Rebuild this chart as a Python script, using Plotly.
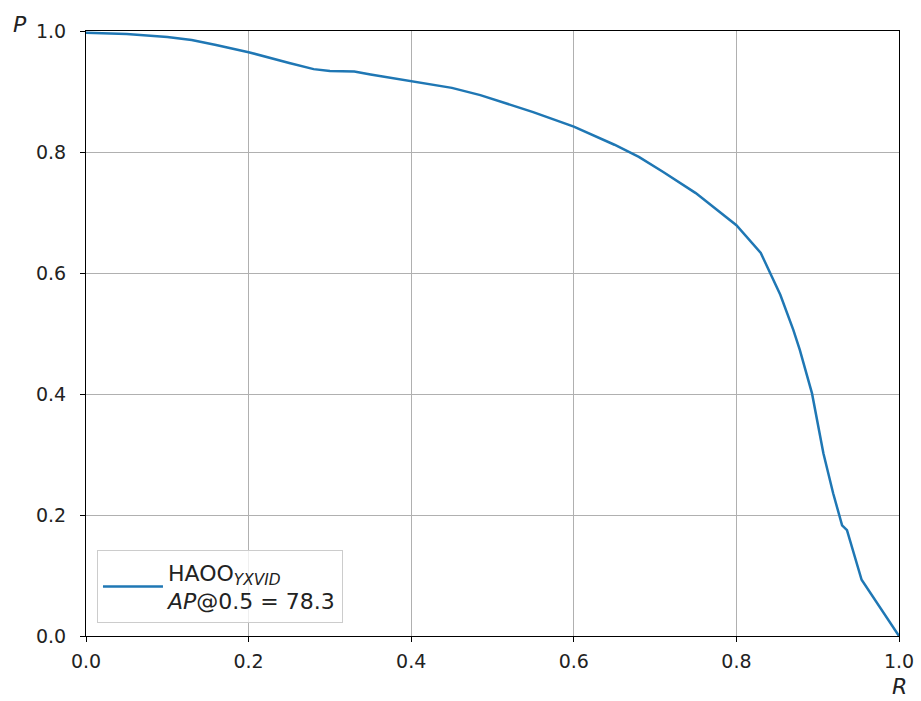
import plotly.graph_objects as go

recall = [0, 0.02, 0.05, 0.1, 0.13, 0.16, 0.2, 0.25, 0.28, 0.3, 0.33, 0.35, 0.4, 0.45, 0.485,
          0.55, 0.6, 0.65, 0.68, 0.71, 0.75, 0.78, 0.8, 0.83, 0.854, 0.87, 0.878, 0.893, 0.907,
          0.919, 0.93, 0.936, 0.954, 1.0]
precision = [0.997, 0.996, 0.995, 0.99, 0.985, 0.977, 0.965, 0.947, 0.937, 0.934, 0.933, 0.928,
             0.917, 0.906, 0.894, 0.866, 0.842, 0.812, 0.792, 0.767, 0.732, 0.70, 0.679, 0.633,
             0.564, 0.506, 0.473, 0.401, 0.302, 0.236, 0.183, 0.175, 0.093, 0.0]
legend_name = "HAOO<sub><i>YXVID</i></sub><br><i>AP</i>@0.5 = 78.3"
tick_vals = [0, 0.2, 0.4, 0.6, 0.8, 1.0]
tick_text = ["0.0", "0.2", "0.4", "0.6", "0.8", "1.0"]

fig = go.Figure()
fig.add_trace(go.Scatter(x=recall, y=precision, mode="lines", name=legend_name,
                         line=dict(color="#1f77b4", width=2.5)))

axis_common = dict(range=[0, 1], tickvals=tick_vals, ticktext=tick_text,
                   showgrid=True, gridcolor="#b0b0b0", gridwidth=1,
                   showline=True, linecolor="black", linewidth=1.2, mirror=True,
                   ticks="outside", ticklen=5, tickcolor="black", automargin=False,
                   zeroline=False, tickfont=dict(family="DejaVu Sans", size=19, color="#222"))
fig.update_xaxes(**axis_common, ticklabelstandoff=3)
fig.update_yaxes(**axis_common, ticklabelstandoff=10)

fig.update_layout(
    width=921, height=701,
    margin=dict(l=86, r=22, t=31, b=65),
    plot_bgcolor="white", paper_bgcolor="white",
    showlegend=True,
    legend=dict(x=0.0135, y=0.021, xanchor="left", yanchor="bottom",
                bgcolor="rgba(255,255,255,0.8)", bordercolor="#cccccc", borderwidth=1,
                itemwidth=60,
                font=dict(family="DejaVu Sans", size=22, color="#222")),
    annotations=[
        dict(text="<i>P</i>", xref="paper", yref="paper", x=-0.081, y=1.011, xanchor="center",
             yanchor="middle", showarrow=False, font=dict(family="DejaVu Sans", size=22, color="#222")),
        dict(text="<i>R</i>", xref="paper", yref="paper", x=1.0, y=-0.083, xanchor="center",
             yanchor="middle", showarrow=False, font=dict(family="DejaVu Sans", size=22, color="#222")),
    ],
)

fig.write_html("out.html")
